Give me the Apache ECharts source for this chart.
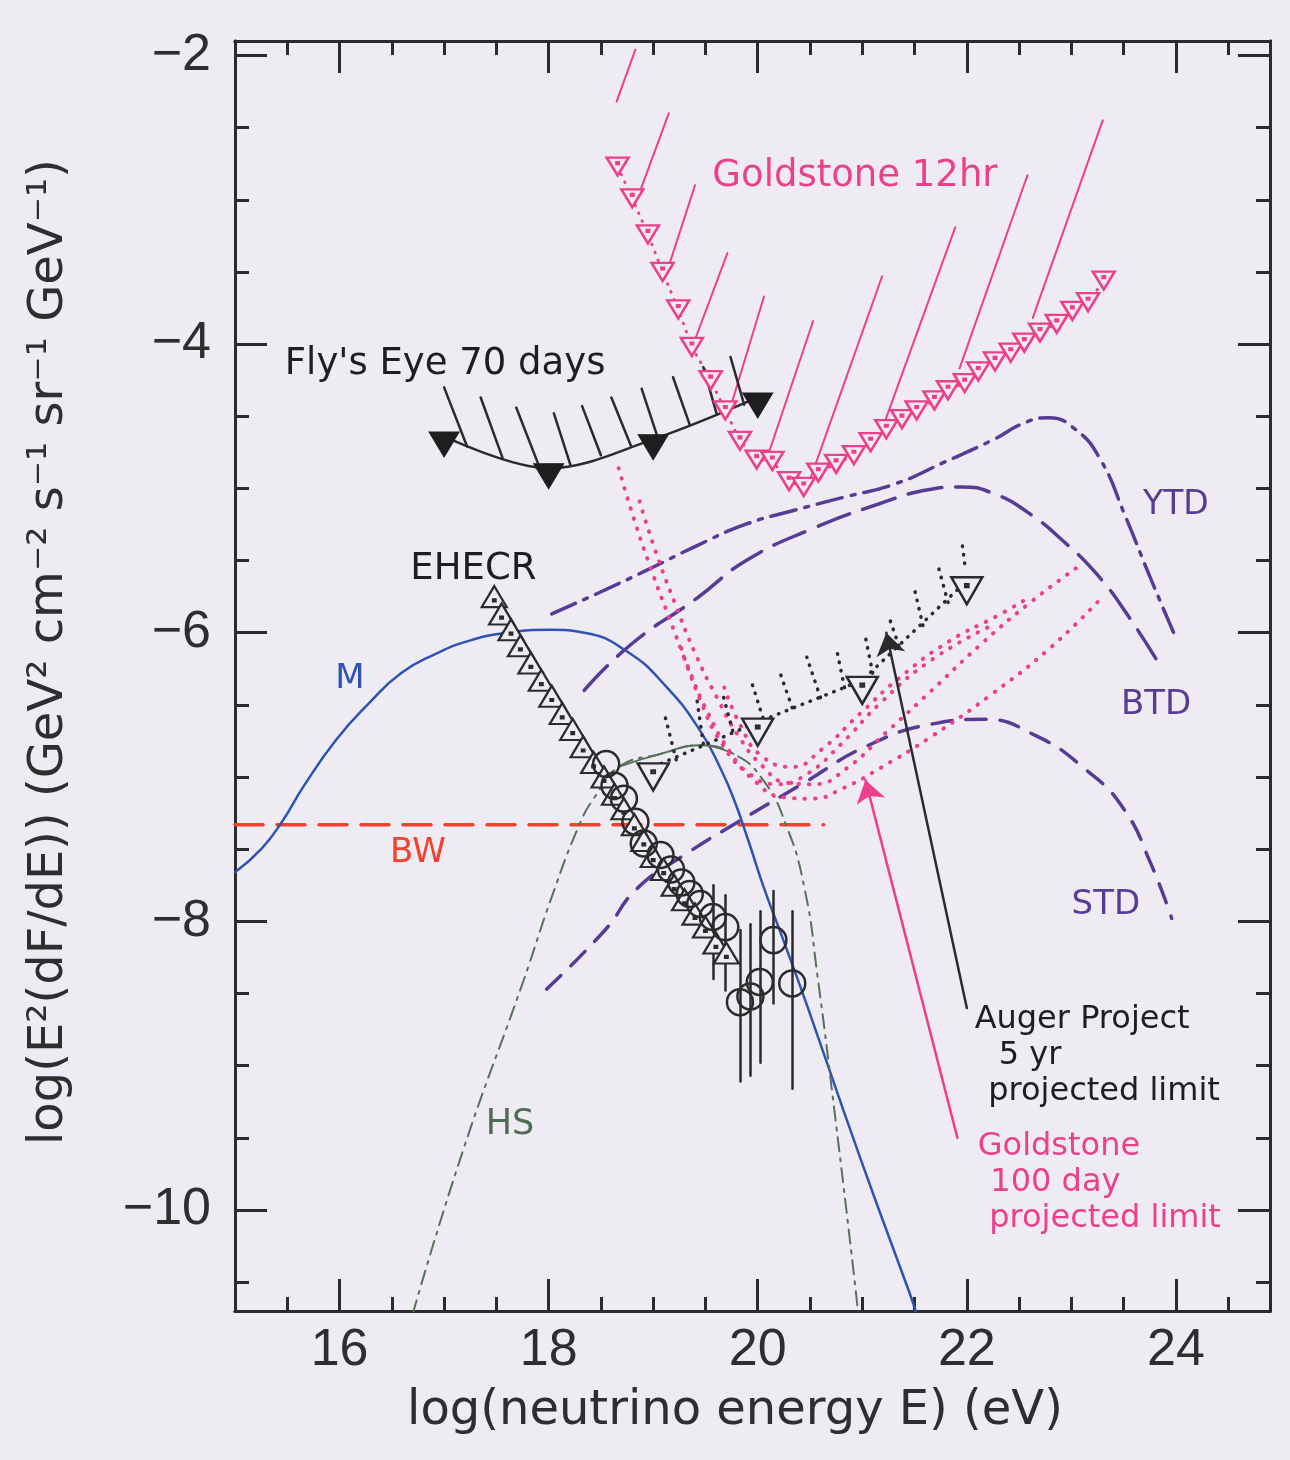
<!DOCTYPE html>
<html><head><meta charset="utf-8">
<script src="https://cdn.jsdelivr.net/npm/echarts@6/dist/echarts.min.js"></script>
<style>html,body{margin:0;padding:0;background:#efebf3}#c{width:1290px;height:1460px}</style>
</head><body><div id="c"></div>
<script>
// ---------- tick labels ----------
const xMajorTicks = [16, 18, 20, 22, 24];
const xMinorTicks = [15.5, 16.5, 17, 17.5, 18.5, 19, 19.5, 20.5, 21, 21.5, 22.5, 23, 23.5, 24.5];
const yMajorTicks = [-10, -8, -6, -4, -2];
const yMinorTicks = [-10.5, -9.5, -9, -8.5, -7.5, -7, -6.5, -5.5, -5, -4.5, -3.5, -3, -2.5];

// ---------- model curves ----------
const mX = [15.0, 15.25, 15.45, 15.66, 15.97, 16.28, 16.59, 16.91, 17.22, 17.6, 18.02, 18.34, 18.75, 19.12, 19.45, 19.65, 19.78, 19.91, 20.06, 20.24, 20.48, 20.82, 21.14, 21.45, 21.52];
const mY = [-7.66, -7.50, -7.31, -7.06, -6.74, -6.49, -6.28, -6.15, -6.06, -6.0, -5.98, -6.0, -6.13, -6.37, -6.68, -6.95, -7.17, -7.44, -7.77, -8.12, -8.6, -9.31, -9.96, -10.57, -10.72];

const bwX = [15.0, 20.63];
const bwY = [-7.33, -7.33];

const hsX = [16.70, 17.18, 17.76, 18.03, 18.30, 18.44, 18.67, 19.07, 19.46, 19.77, 20.04, 20.27, 20.45, 20.57, 20.73, 20.93, 20.96];
const hsY = [-10.72, -9.59, -8.41, -7.83, -7.32, -7.14, -6.93, -6.84, -6.78, -6.84, -7.01, -7.33, -7.78, -8.37, -9.29, -10.51, -10.72];

const ytdX = [18.03, 18.46, 18.93, 19.41, 19.88, 20.36, 20.83, 21.31, 21.78, 22.26, 22.54, 22.78, 23.02, 23.27, 23.52, 23.75, 23.99];
const ytdY = [-5.87, -5.73, -5.57, -5.40, -5.25, -5.15, -5.06, -4.97, -4.82, -4.66, -4.55, -4.51, -4.58, -4.79, -5.20, -5.61, -6.02];

const btdX = [18.34, 18.79, 19.42, 19.89, 20.52, 21.15, 21.63, 21.95, 22.27, 22.59, 22.93, 23.25, 23.55, 23.85];
const btdY = [-6.40, -6.08, -5.76, -5.50, -5.28, -5.11, -5.01, -4.99, -5.04, -5.17, -5.37, -5.60, -5.89, -6.23];

const stdX = [17.98, 18.54, 18.85, 19.32, 19.79, 20.42, 21.06, 21.69, 22.16, 22.65, 23.14, 23.50, 23.76, 23.96];
const stdY = [-8.47, -8.06, -7.77, -7.53, -7.32, -7.05, -6.78, -6.63, -6.60, -6.71, -6.95, -7.22, -7.60, -7.98];

// ---------- EHECR data ----------
const ehTriX = [17.48, 17.55, 17.64, 17.73, 17.83, 17.93, 18.03, 18.13, 18.23, 18.33, 18.43, 18.53, 18.63, 18.72, 18.82, 18.91, 19.00, 19.10, 19.20, 19.30, 19.40, 19.50, 19.60, 19.70];
const ehTriY = [-5.75, -5.87, -5.98, -6.09, -6.21, -6.33, -6.44, -6.56, -6.67, -6.79, -6.90, -7.00, -7.12, -7.22, -7.33, -7.44, -7.55, -7.64, -7.75, -7.85, -7.95, -8.04, -8.15, -8.22];
const ehCircX = [18.55, 18.63, 18.72, 18.83, 18.91, 19.07, 19.17, 19.27, 19.35, 19.45, 19.57, 19.69, 19.83, 19.93, 20.02, 20.15, 20.33];
const ehCircY = [-6.91, -7.06, -7.15, -7.31, -7.46, -7.54, -7.64, -7.73, -7.81, -7.88, -7.97, -8.04, -8.56, -8.52, -8.42, -8.13, -8.43];
const ebX = [19.57, 19.69, 19.83, 19.93, 20.02, 20.15, 20.33];
const ebLow = [-8.40, -8.48, -9.11, -9.07, -8.98, -8.57, -9.16];
const ebHigh = [-7.75, -7.82, -8.06, -8.02, -7.93, -7.79, -7.93];

// ---------- Fly's Eye 70 days ----------
const feX = [17, 18, 19, 20];
const feY = [-4.64, -4.86, -4.66, -4.37];
const feHatchX1 = [17.22, 17.56, 17.90, 18.21, 18.50, 18.79, 19.04, 19.35, 19.61, 19.87];
const feHatchY1 = [-4.71, -4.79, -4.83, -4.84, -4.77, -4.71, -4.64, -4.56, -4.49, -4.42];
const feHatchX2 = [17.00, 17.35, 17.69, 18.05, 18.32, 18.60, 18.89, 19.19, 19.48, 19.74];
const feHatchY2 = [-4.30, -4.37, -4.44, -4.48, -4.43, -4.37, -4.31, -4.23, -4.16, -4.09];

// ---------- Goldstone 12 hr ----------
const g12X = [18.66, 18.80, 18.95, 19.09, 19.24, 19.37, 19.55, 19.69, 19.83, 19.99, 20.14, 20.30, 20.44, 20.58, 20.75, 20.92, 21.08, 21.23, 21.38, 21.52, 21.69, 21.82, 21.98, 22.11, 22.27, 22.42, 22.55, 22.70, 22.86, 23.01, 23.16, 23.31];
const g12Y = [-2.77, -2.99, -3.24, -3.50, -3.76, -4.02, -4.25, -4.46, -4.67, -4.80, -4.81, -4.95, -4.99, -4.89, -4.83, -4.77, -4.68, -4.59, -4.52, -4.46, -4.39, -4.32, -4.27, -4.19, -4.12, -4.06, -3.99, -3.92, -3.86, -3.77, -3.71, -3.56];
const g12HatchX1 = [18.65, 18.86, 19.14, 19.40, 19.73, 20.08, 20.51, 21.21, 21.93, 22.63];
const g12HatchY1 = [-2.32, -2.97, -3.48, -3.97, -4.46, -4.81, -4.92, -4.55, -4.17, -3.82];
const g12HatchX2 = [18.83, 19.15, 19.40, 19.71, 20.06, 20.53, 21.19, 21.89, 22.58, 23.30];
const g12HatchY2 = [-1.96, -2.40, -2.90, -3.37, -3.67, -3.84, -3.53, -3.19, -2.83, -2.45];

// ---------- Goldstone 100 day projected limits ----------
const gd1X = [18.67, 18.82, 18.98, 19.16, 19.34, 19.52, 19.73, 19.96, 20.24, 20.52, 20.81, 21.19, 21.66, 22.23, 22.79, 23.26];
const gd1Y = [-4.86, -5.22, -5.56, -5.91, -6.25, -6.55, -6.82, -7.02, -7.14, -7.15, -7.08, -6.93, -6.72, -6.43, -6.11, -5.78];
const gd2X = [18.87, 19.02, 19.21, 19.40, 19.61, 19.82, 20.04, 20.28, 20.54, 20.85, 21.23, 21.65, 22.12, 22.59, 23.09];
const gd2Y = [-5.09, -5.43, -5.80, -6.14, -6.45, -6.72, -6.92, -7.04, -7.05, -6.94, -6.69, -6.41, -6.09, -5.80, -5.53];
const gd3X = [19.27, 19.44, 19.65, 19.89, 20.19, 20.47, 20.80, 21.17, 21.64, 22.21];
const gd3Y = [-6.11, -6.45, -6.76, -6.96, -7.05, -6.98, -6.77, -6.49, -6.20, -5.96];
const gd4X = [19.68, 19.84, 20.03, 20.33, 20.61, 20.98, 21.36, 21.83, 22.30, 22.61];
const gd4Y = [-6.38, -6.65, -6.85, -6.93, -6.81, -6.56, -6.31, -6.06, -5.88, -5.75];

// ---------- Auger 5 yr projected limit ----------
const augX = [19, 20, 21, 22];
const augY = [-6.93, -6.62, -6.33, -5.64];
const augHatchX1 = [19.22, 19.48, 19.76, 20.05, 20.33, 20.60, 20.83, 21.10, 21.35, 21.58, 21.82, 21.98];
const augHatchY1 = [-6.88, -6.77, -6.68, -6.59, -6.52, -6.45, -6.38, -6.28, -6.09, -5.95, -5.79, -5.52];
const augHatchX2 = [19.11, 19.42, 19.66, 19.94, 20.20, 20.47, 20.75, 21.03, 21.25, 21.50, 21.73, 21.95];
const augHatchY2 = [-6.57, -6.47, -6.41, -6.34, -6.25, -6.17, -6.10, -6.03, -5.88, -5.70, -5.55, -5.35];

// ---------- arrows (tail -> head) ----------
const augerArrowX = [22.00, 21.23];
const augerArrowY = [-8.60, -6.00];
const gsArrowX = [21.91, 21.03];
const gsArrowY = [-9.50, -7.02];

// ---------- annotation texts ----------
const annotations = [
  {text: "Fly's Eye 70 days", x: 17.01, y: -4.14, color: '#1e1e1e', size: 37, pos: 'inside'},
  {text: 'Goldstone 12hr', x: 20.93, y: -2.84, color: '#ec3f8c', size: 37, pos: 'inside'},
  {text: 'EHECR', x: 17.28, y: -5.56, color: '#1e1e1e', size: 37, pos: 'inside'},
  {text: 'M', x: 16.10, y: -6.32, color: '#2f53b4', size: 34, pos: 'inside'},
  {text: 'BW', x: 16.75, y: -7.53, color: '#f1412d', size: 34, pos: 'inside'},
  {text: 'HS', x: 17.63, y: -9.41, color: '#4f6b55', size: 35, pos: 'inside'},
  {text: 'YTD', x: 24.00, y: -5.12, color: '#573c95', size: 33, pos: 'inside'},
  {text: 'BTD', x: 23.81, y: -6.50, color: '#573c95', size: 34, pos: 'inside'},
  {text: 'STD', x: 23.33, y: -7.89, color: '#573c95', size: 34, pos: 'inside'},
  {text: 'Auger Project', x: 22.07, y: -8.68, color: '#1e1e1e', size: 32, pos: 'right'},
  {text: '5 yr', x: 22.30, y: -8.93, color: '#1e1e1e', size: 32, pos: 'right'},
  {text: 'projected limit', x: 22.20, y: -9.18, color: '#1e1e1e', size: 32, pos: 'right'},
  {text: 'Goldstone', x: 22.10, y: -9.56, color: '#ec3f8c', size: 32, pos: 'right'},
  {text: '100 day', x: 22.22, y: -9.81, color: '#ec3f8c', size: 32, pos: 'right'},
  {text: 'projected limit', x: 22.21, y: -10.06, color: '#ec3f8c', size: 32, pos: 'right'}
];

// ---------- styling ----------
const BG = '#efebf3', INK = '#2b2b2b', PINK = '#ec3f8c', PURPLE = '#573c95',
      BLUE = '#2f53b4', RED = '#f1412d', GREEN = '#56705a';
const FONT = '"Liberation Sans", Arial, sans-serif';
const LFONT = '"DejaVu Sans", "Liberation Sans", sans-serif';
const TRI_DOWN_DOT = 'path://M0,0L100,0L50,86Z M45,22L55,22L55,31L45,31Z';
const TRI_UP_DOT = 'path://M50,0L100,86L0,86Z M45,54L55,54L55,63L45,63Z';
const TRI_DOWN = 'path://M0,0L100,0L50,86Z';

const zip = (xs, ys) => xs.map((x, i) => [x, ys[i]]);
const segs = (x1, y1, x2, y2) => x1.map((x, i) => ({coords: [[x, y1[i]], [x2[i], y2[i]]]}));

function curve(data, color, width, dash, extra) {
  return Object.assign({type: 'line', data, symbol: 'none', showSymbol: false, silent: true, smooth: true,
    lineStyle: {color, width, type: dash, cap: 'round', opacity: 1}, z: 3}, extra || {});
}
function marks(data, symbol, size, fill, stroke, bw, extra) {
  return Object.assign({type: 'scatter', data, symbol, symbolSize: size, silent: true,
    itemStyle: {color: fill, borderColor: stroke, borderWidth: bw, opacity: 1}, z: 6}, extra || {});
}
function hatch(data, color, width, dash, z, extra) {
  return Object.assign({type: 'lines', coordinateSystem: 'cartesian2d', polyline: false, data, silent: true,
    lineStyle: {color, width, type: dash, opacity: 1, curveness: 0, cap: 'round'}, z: z || 4}, extra || {});
}
const axLine = {show: true, lineStyle: {color: INK, width: 3}};
function xAx(pos, ticks, len, labels) {
  return {type: 'value', min: 15, max: 24.9, position: pos, axisLine: axLine,
    axisTick: {show: true, inside: true, length: len, customValues: ticks, lineStyle: {color: INK, width: 3}},
    axisLabel: labels ? {show: true, customValues: ticks, margin: 14, fontSize: 52, fontFamily: FONT, color: '#2e2e2e'} : {show: false},
    splitLine: {show: false}};
}
function yAx(pos, ticks, len, labels) {
  return {type: 'value', min: -10.7, max: -1.9, position: pos, axisLine: axLine,
    axisTick: {show: true, inside: true, length: len, customValues: ticks, lineStyle: {color: INK, width: 3}},
    axisLabel: labels ? {show: true, customValues: ticks, margin: 24, fontSize: 52, fontFamily: FONT, color: '#2e2e2e',
      formatter: v => (v < 0 ? '\u2212' : '') + Math.abs(v)} : {show: false},
    splitLine: {show: false}};
}

const series = [
  curve(zip(bwX, bwY), RED, 3.5, [28, 14], {smooth: false}),
  curve(zip(mX, mY), BLUE, 2.5, 'solid'),
  curve(zip(hsX, hsY), GREEN, 2, [14, 7, 3, 7]),
  curve(zip(hsX, hsY).slice(6, 10), GREEN, 1.8, 'solid'),
  curve(zip(ytdX, ytdY), PURPLE, 3.5, [26, 9, 4, 9]),
  curve(zip(btdX, btdY), PURPLE, 3.5, [34, 14]),
  curve(zip(stdX, stdY), PURPLE, 3.5, [20, 14]),
  curve(zip(gd1X, gd1Y), PINK, 4, [0.5, 10]),
  curve(zip(gd2X, gd2Y), PINK, 4, [0.5, 10]),
  curve(zip(gd3X, gd3Y), PINK, 4, [0.5, 10]),
  curve(zip(gd4X, gd4Y), PINK, 4, [0.5, 10]),
  // Goldstone 12hr
  curve(zip(g12X, g12Y), PINK, 3, [0.5, 8], {smooth: false}),
  hatch(segs(g12HatchX1, g12HatchY1, g12HatchX2, g12HatchY2), PINK, 2, 'solid'),
  marks(zip(g12X, g12Y), TRI_DOWN_DOT, [22, 18], BG, PINK, 2.5),
  // Fly's Eye
  curve(zip(feX, feY), INK, 2.5, 'solid', {smooth: 0.35}),
  hatch(segs(feHatchX1, feHatchY1, feHatchX2, feHatchY2), INK, 2.5, 'solid'),
  marks(zip(feX, feY), TRI_DOWN, [30, 25], '#1e1e1e', '#1e1e1e', 1, {symbolOffset: [0, 8]}),
  // Auger
  curve(zip(augX, augY), INK, 3.5, [0.5, 8], {smooth: false}),
  hatch(segs(augHatchX1, augHatchY1, augHatchX2, augHatchY2), INK, 3.5, [0.5, 8]),
  marks(zip(augX, augY), TRI_DOWN_DOT, [31, 27], BG, INK, 2.5, {symbolOffset: [0, 10]}),
  // EHECR
  hatch(segs(ebX, ebLow, ebX, ebHigh), INK, 2.5, 'solid', 5),
  marks(zip(ehTriX, ehTriY), TRI_UP_DOT, [25, 21], BG, INK, 2.2),
  marks(zip(ehCircX, ehCircY), 'circle', 26, 'rgba(0,0,0,0)', INK, 2.5, {z: 7}),
  // arrows
  hatch([{coords: zip(augerArrowX, augerArrowY)}], INK, 2.5, 'solid', 8, {symbol: ['none', 'arrow'], symbolSize: [0, 22]}),
  hatch([{coords: zip(gsArrowX, gsArrowY)}], PINK, 2.5, 'solid', 8, {symbol: ['none', 'arrow'], symbolSize: [0, 22]}),
  // annotations
  {type: 'scatter', silent: true, z: 10, symbol: 'circle', symbolSize: 1,
    itemStyle: {color: 'rgba(0,0,0,0)', opacity: 1},
    data: annotations.map(a => ({value: [a.x, a.y],
      label: {show: true, formatter: a.text, position: a.pos, distance: 0, color: a.color, opacity: 1,
        fontSize: a.size, fontFamily: LFONT}}))}
];

const option = {
  backgroundColor: BG,
  animation: false,
  grid: {left: 235, right: 20, top: 41, bottom: 149, containLabel: false},
  xAxis: [xAx('bottom', xMajorTicks, 32, true), xAx('bottom', xMinorTicks, 14, false),
          xAx('top', xMajorTicks, 32, false), xAx('top', xMinorTicks, 14, false)],
  yAxis: [yAx('left', yMajorTicks, 32, true), yAx('left', yMinorTicks, 14, false),
          yAx('right', yMajorTicks, 32, false), yAx('right', yMinorTicks, 14, false)],
  series,
  graphic: [
    {type: 'text', x: 735, y: 1412, silent: true,
      style: {text: 'log(neutrino energy E) (eV)', font: '48px ' + LFONT, fill: '#2e2e2e',
        align: 'center', verticalAlign: 'middle', textAlign: 'center', textVerticalAlign: 'middle'}},
    {type: 'text', x: 50, y: 652, rotation: Math.PI / 2, silent: true,
      style: {text: 'log(E\u00b2(dF/dE)) (GeV\u00b2 cm\u207b\u00b2 s\u207b\u00b9 sr\u207b\u00b9 GeV\u207b\u00b9)',
        font: '48px ' + LFONT, fill: '#2e2e2e',
        align: 'center', verticalAlign: 'middle', textAlign: 'center', textVerticalAlign: 'middle'}}
  ]
};
const chart = echarts.init(document.getElementById('c'), null, {renderer: 'canvas', width: 1290, height: 1460});
chart.setOption(option);
</script>
</body></html>
